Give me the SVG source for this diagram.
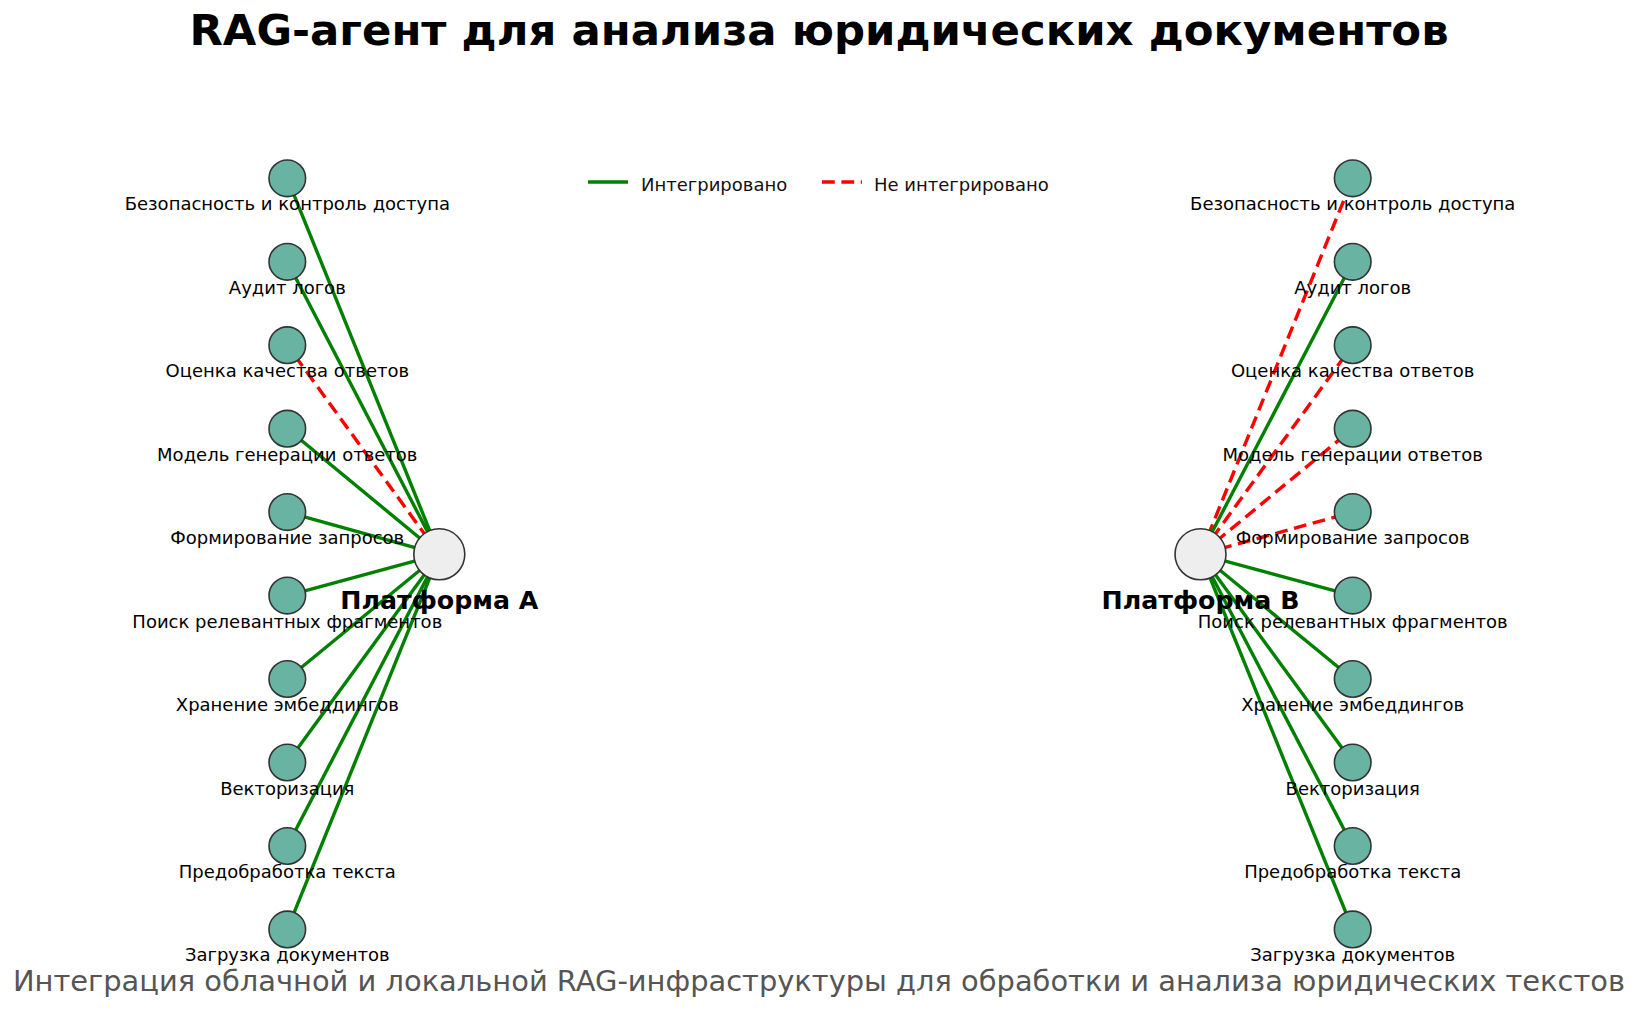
<svg xmlns="http://www.w3.org/2000/svg" width="1638" height="1036" viewBox="0 0 1638 1036">
<style>
text{font-family:"DejaVu Sans","Noto Sans",sans-serif;}
.title{font-size:43.4px;font-weight:bold;fill:#000;text-anchor:middle;}
.sub{font-size:28.9px;fill:#555;text-anchor:middle;}
.lbl{font-size:18px;fill:#000;text-anchor:middle;}
.plat{font-size:25.3px;font-weight:bold;fill:#000;text-anchor:middle;}
.leg{font-size:18px;fill:#111;}
.node{fill:#69b3a2;stroke:#333;stroke-width:1.6;}
.hub{fill:#eeeeee;stroke:#333;stroke-width:1.6;}
.ok{stroke:#008000;stroke-width:3.4;fill:none;}
.no{stroke:#ff0000;stroke-width:3.4;fill:none;stroke-dasharray:12.8 6.6;}
</style>
<rect width="1638" height="1036" fill="#fff"/>
<text class="title" x="819" y="45">RAG-агент для анализа юридических документов</text>
<g id="legend">
<line class="ok" x1="588" y1="182" x2="628" y2="182"/>
<text class="leg" x="641" y="191">Интегрировано</text>
<line class="no" x1="822" y1="182" x2="862" y2="182"/>
<text class="leg" x="874" y="191">Не интегрировано</text>
</g>
<g id="connectors">
<line class="ok" x1="439.3" y1="554.3" x2="287.3" y2="178.3"/>
<line class="ok" x1="439.3" y1="554.3" x2="287.3" y2="261.8"/>
<line class="no" x1="439.3" y1="554.3" x2="287.3" y2="345.2"/>
<line class="ok" x1="439.3" y1="554.3" x2="287.3" y2="428.7"/>
<line class="ok" x1="439.3" y1="554.3" x2="287.3" y2="512.1"/>
<line class="ok" x1="439.3" y1="554.3" x2="287.3" y2="595.6"/>
<line class="ok" x1="439.3" y1="554.3" x2="287.3" y2="679"/>
<line class="ok" x1="439.3" y1="554.3" x2="287.3" y2="762.5"/>
<line class="ok" x1="439.3" y1="554.3" x2="287.3" y2="846"/>
<line class="ok" x1="439.3" y1="554.3" x2="287.3" y2="929.4"/>
<line class="no" x1="1200.5" y1="554.3" x2="1352.7" y2="178.3"/>
<line class="ok" x1="1200.5" y1="554.3" x2="1352.7" y2="261.8"/>
<line class="no" x1="1200.5" y1="554.3" x2="1352.7" y2="345.2"/>
<line class="no" x1="1200.5" y1="554.3" x2="1352.7" y2="428.7"/>
<line class="no" x1="1200.5" y1="554.3" x2="1352.7" y2="512.1"/>
<line class="ok" x1="1200.5" y1="554.3" x2="1352.7" y2="595.6"/>
<line class="ok" x1="1200.5" y1="554.3" x2="1352.7" y2="679"/>
<line class="ok" x1="1200.5" y1="554.3" x2="1352.7" y2="762.5"/>
<line class="ok" x1="1200.5" y1="554.3" x2="1352.7" y2="846"/>
<line class="ok" x1="1200.5" y1="554.3" x2="1352.7" y2="929.4"/>
</g>
<g id="platform-a"><circle class="hub" cx="439.3" cy="554.3" r="25.5"/></g>
<g id="platform-b"><circle class="hub" cx="1200.5" cy="554.3" r="25.5"/></g>
<g id="a-security"><circle class="node" cx="287.3" cy="178.3" r="18.3"/></g>
<g id="a-audit"><circle class="node" cx="287.3" cy="261.8" r="18.3"/></g>
<g id="a-eval"><circle class="node" cx="287.3" cy="345.2" r="18.3"/></g>
<g id="a-gen"><circle class="node" cx="287.3" cy="428.7" r="18.3"/></g>
<g id="a-query"><circle class="node" cx="287.3" cy="512.1" r="18.3"/></g>
<g id="a-search"><circle class="node" cx="287.3" cy="595.6" r="18.3"/></g>
<g id="a-store"><circle class="node" cx="287.3" cy="679" r="18.3"/></g>
<g id="a-vector"><circle class="node" cx="287.3" cy="762.5" r="18.3"/></g>
<g id="a-prep"><circle class="node" cx="287.3" cy="846" r="18.3"/></g>
<g id="a-load"><circle class="node" cx="287.3" cy="929.4" r="18.3"/></g>
<g id="b-security"><circle class="node" cx="1352.7" cy="178.3" r="18.3"/></g>
<g id="b-audit"><circle class="node" cx="1352.7" cy="261.8" r="18.3"/></g>
<g id="b-eval"><circle class="node" cx="1352.7" cy="345.2" r="18.3"/></g>
<g id="b-gen"><circle class="node" cx="1352.7" cy="428.7" r="18.3"/></g>
<g id="b-query"><circle class="node" cx="1352.7" cy="512.1" r="18.3"/></g>
<g id="b-search"><circle class="node" cx="1352.7" cy="595.6" r="18.3"/></g>
<g id="b-store"><circle class="node" cx="1352.7" cy="679" r="18.3"/></g>
<g id="b-vector"><circle class="node" cx="1352.7" cy="762.5" r="18.3"/></g>
<g id="b-prep"><circle class="node" cx="1352.7" cy="846" r="18.3"/></g>
<g id="b-load"><circle class="node" cx="1352.7" cy="929.4" r="18.3"/></g>
<g id="labels">
<text class="lbl" x="287.3" y="210.3">Безопасность и контроль доступа</text>
<text class="lbl" x="287.3" y="293.8">Аудит логов</text>
<text class="lbl" x="287.3" y="377.2">Оценка качества ответов</text>
<text class="lbl" x="287.3" y="460.7">Модель генерации ответов</text>
<text class="lbl" x="287.3" y="544.1">Формирование запросов</text>
<text class="lbl" x="287.3" y="627.6">Поиск релевантных фрагментов</text>
<text class="lbl" x="287.3" y="711">Хранение эмбеддингов</text>
<text class="lbl" x="287.3" y="794.5">Векторизация</text>
<text class="lbl" x="287.3" y="878">Предобработка текста</text>
<text class="lbl" x="287.3" y="961.4">Загрузка документов</text>
<text class="lbl" x="1352.7" y="210.3">Безопасность и контроль доступа</text>
<text class="lbl" x="1352.7" y="293.8">Аудит логов</text>
<text class="lbl" x="1352.7" y="377.2">Оценка качества ответов</text>
<text class="lbl" x="1352.7" y="460.7">Модель генерации ответов</text>
<text class="lbl" x="1352.7" y="544.1">Формирование запросов</text>
<text class="lbl" x="1352.7" y="627.6">Поиск релевантных фрагментов</text>
<text class="lbl" x="1352.7" y="711">Хранение эмбеддингов</text>
<text class="lbl" x="1352.7" y="794.5">Векторизация</text>
<text class="lbl" x="1352.7" y="878">Предобработка текста</text>
<text class="lbl" x="1352.7" y="961.4">Загрузка документов</text>
<text class="plat" x="439.3" y="609">Платформа A</text>
<text class="plat" x="1200.5" y="609">Платформа B</text>
</g>
<text class="sub" x="819" y="991">Интеграция облачной и локальной RAG-инфраструктуры для обработки и анализа юридических текстов</text>
</svg>
